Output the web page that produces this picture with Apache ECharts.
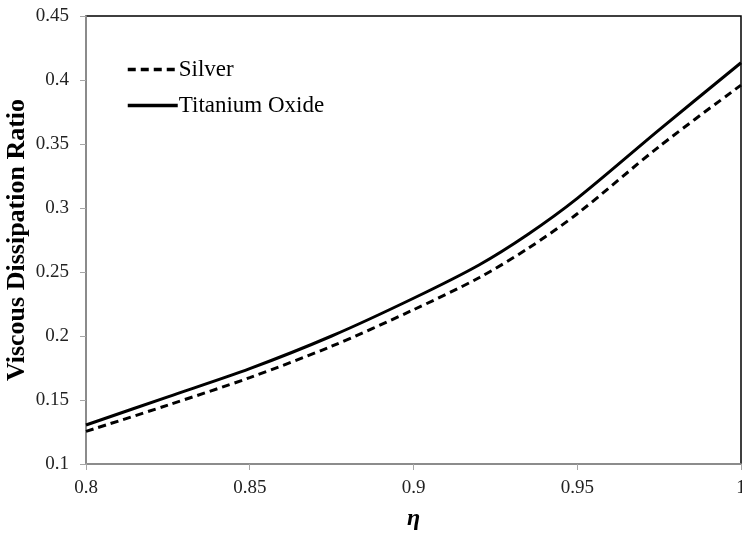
<!DOCTYPE html>
<html>
<head>
<meta charset="utf-8">
<script src="https://cdn.jsdelivr.net/npm/echarts@6/dist/echarts.min.js"></script>
<style>
  html, body { margin: 0; padding: 0; background: #fff; }
  #main { width: 742px; height: 533px; }
</style>
</head>
<body>
<div id="main"></div>
<script>
// eta values
var eta = [0.8, 0.825, 0.85, 0.875, 0.9, 0.92, 0.935, 0.95, 0.975, 1.0];
// viscous dissipation ratio
var silver = [0.1255, 0.146, 0.1675, 0.192, 0.2205, 0.2455, 0.2685, 0.2955, 0.348, 0.396];
var titanium = [0.1305, 0.1525, 0.1745, 0.2, 0.2295, 0.2555, 0.2795, 0.3075, 0.361, 0.4135];

var serif = '"Liberation Serif", "Times New Roman", serif';

function pairs(xs, ys) {
    var out = [];
    for (var i = 0; i < xs.length; i++) out.push([xs[i], ys[i]]);
    return out;
}

var myChart = echarts.init(document.getElementById('main'));

var option = {
    backgroundColor: '#fff',
    animation: false,
    grid: {
        left: 86,
        right: 1,
        top: 16,
        bottom: 69,
        outerBoundsMode: 'none',
        containLabel: false,
        show: true,
        borderColor: '#000',
        borderWidth: 1.5,
        backgroundColor: 'transparent'
    },
    legend: {
        orient: 'vertical',
        left: 121,
        top: 53,
        itemWidth: 50,
        itemHeight: 14,
        itemGap: 13,
        itemStyle: { opacity: 0 },
        lineStyle: { width: 3.5, color: '#000' },
        textStyle: { fontFamily: serif, fontSize: 23, color: '#000', padding: [0, 0, 0, -4] },
        data: ['Silver', 'Titanium Oxide']
    },
    xAxis: {
        type: 'value',
        min: 0.8,
        max: 1,
        interval: 0.05,
        name: 'η',
        nameLocation: 'middle',
        nameGap: 43,
        nameMoveOverlap: false,
        nameTextStyle: { fontFamily: serif, fontSize: 24, fontWeight: 'bold', fontStyle: 'italic', color: '#000' },
        axisLine: { show: true, lineStyle: { color: '#a6a6a6', width: 1.5 } },
        axisTick: { show: true, length: 6, lineStyle: { color: '#a6a6a6' } },
        axisLabel: { fontFamily: serif, fontSize: 19, color: '#222', margin: 15 },
        splitLine: { show: false }
    },
    yAxis: {
        type: 'value',
        min: 0.1,
        max: 0.45,
        interval: 0.05,
        name: 'Viscous Dissipation Ratio',
        nameLocation: 'middle',
        nameRotate: 90,
        nameGap: 56,
        nameMoveOverlap: false,
        nameTextStyle: { fontFamily: serif, fontSize: 26, fontWeight: 'bold', color: '#000' },
        axisLine: { show: true, lineStyle: { color: '#a6a6a6', width: 1.5 } },
        axisTick: { show: true, length: 6, lineStyle: { color: '#a6a6a6' } },
        axisLabel: { fontFamily: serif, fontSize: 19, color: '#222', margin: 17 },
        splitLine: { show: false }
    },
    series: [
        {
            name: 'Silver',
            type: 'line',
            smooth: 0.3,
            symbol: 'none',
            data: pairs(eta, silver),
            lineStyle: { color: '#000', width: 3, type: [8, 5] },
            itemStyle: { color: '#000' }
        },
        {
            name: 'Titanium Oxide',
            type: 'line',
            smooth: 0.3,
            symbol: 'none',
            data: pairs(eta, titanium),
            lineStyle: { color: '#000', width: 3, type: 'solid' },
            itemStyle: { color: '#000' }
        }
    ]
};

myChart.setOption(option);
</script>
</body>
</html>
